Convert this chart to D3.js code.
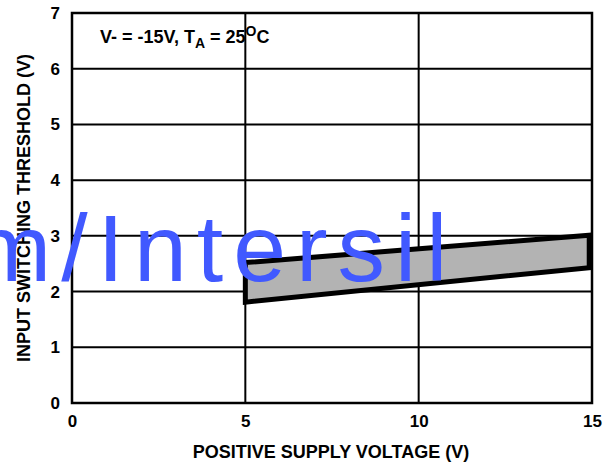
<!DOCTYPE html>
<html><head><meta charset="utf-8">
<script src="https://cdn.jsdelivr.net/npm/d3@7"></script>
<style>body{margin:0;background:#fff}svg{display:block}text{font-family:"Liberation Sans",Arial,sans-serif}</style>
</head><body>
<svg id="c" width="616" height="468"></svg>
<script>
const xTicks = [0, 5, 10, 15];
const yTicks = [0, 1, 2, 3, 4, 5, 6, 7];
const bandX = [5, 14.92, 14.92, 5];
const bandY = [2.52, 3.01, 2.43, 1.81];
const xTitle = "POSITIVE SUPPLY VOLTAGE (V)";
const yTitle = "INPUT SWITCHING THRESHOLD (V)";
const watermark = "m/Intersil";

const svg = d3.select("#c");
const L = 72, R = 592, T = 13, B = 403;
const x = d3.scaleLinear().domain([0, 15]).range([L, R]);
const y = d3.scaleLinear().domain([0, 7]).range([B, T]);

// grid
const g = svg.append("g");
g.selectAll("line.h").data(yTicks.slice(1, -1)).enter().append("line")
  .attr("x1", L).attr("x2", R).attr("y1", d => y(d)).attr("y2", d => y(d))
  .attr("stroke", "#000").attr("stroke-width", 2);
g.selectAll("line.v").data(xTicks.slice(1, -1)).enter().append("line")
  .attr("y1", T).attr("y2", B).attr("x1", d => x(d)).attr("x2", d => x(d))
  .attr("stroke", "#000").attr("stroke-width", 2);

// band
const pts = bandX.map((v, i) => [x(v), y(bandY[i])]);
svg.append("polygon").attr("points", pts.map(p => p.join(",")).join(" "))
  .attr("fill", "#b3b3b3").attr("stroke", "#000").attr("stroke-width", 5)
  .attr("stroke-linejoin", "miter");

// border
svg.append("rect").attr("x", L).attr("y", T).attr("width", R - L).attr("height", B - T)
  .attr("fill", "none").attr("stroke", "#000").attr("stroke-width", 2.5);

// axes labels
const fmt = d3.format("d");
const xa = d3.axisBottom(x).tickValues(xTicks).tickFormat(fmt).tickSize(0).tickPadding(12);
const ya = d3.axisLeft(y).tickValues(yTicks).tickFormat(fmt).tickSize(0).tickPadding(12);
const gx = svg.append("g").attr("transform", `translate(0,${B})`).call(xa);
const gy = svg.append("g").attr("transform", `translate(${L},0)`).call(ya);
[gx, gy].forEach(a => {
  a.select(".domain").remove();
  a.selectAll("text").attr("font-family", "Liberation Sans, Arial, sans-serif")
    .attr("font-size", 17).attr("font-weight", "bold").attr("fill", "#000");
});

svg.append("text").attr("x", 331).attr("y", 458).attr("text-anchor", "middle")
  .attr("font-size", 18).attr("font-weight", "bold").text(xTitle);
svg.append("text").attr("transform", "translate(30,208) rotate(-90)").attr("text-anchor", "middle")
  .attr("font-size", 18).attr("font-weight", "bold").text(yTitle);

// annotation
const ann = svg.append("text").attr("x", 100).attr("y", 43).attr("font-size", 18).attr("font-weight", "bold");
ann.append("tspan").text("V- = -15V, T");
ann.append("tspan").attr("font-size", 14).attr("dy", 5).text("A");
ann.append("tspan").attr("dy", -5).text(" = 25");
ann.append("tspan").attr("font-size", 14).attr("dy", -7).text("O");
ann.append("tspan").attr("dy", 7).text("C");

// watermark
svg.append("text").attr("x", -28).attr("y", 281).attr("font-size", 95)
  .attr("letter-spacing", 10).attr("fill", "#4159ff").text(watermark);
</script>
</body></html>
